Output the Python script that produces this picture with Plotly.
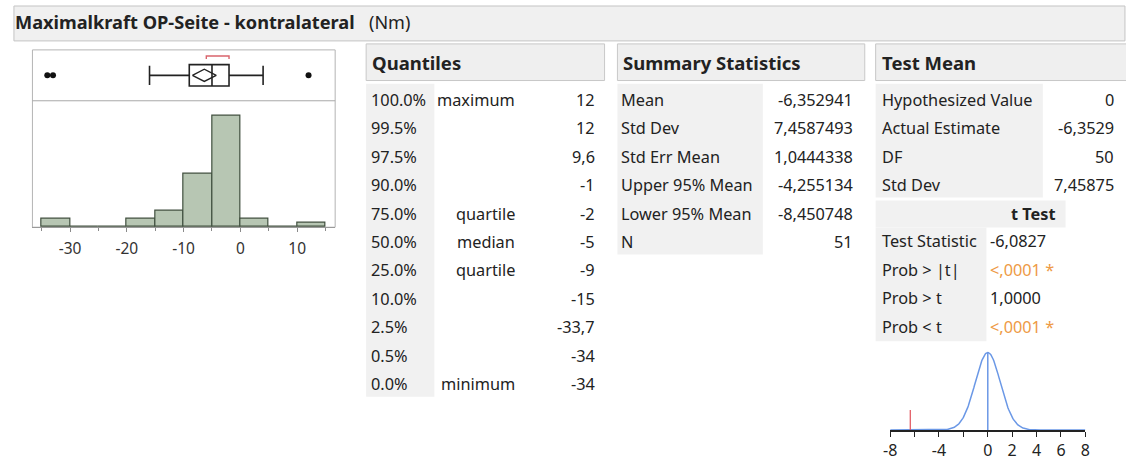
import math
import plotly.graph_objects as go

W, H = 1126, 461
FONT = "Noto Sans"
TXT = "#222222"


def px(x):
    return x / W


def py(y):
    return 1 - y / H


# ---------------- data ----------------
title_main = "Maximalkraft OP-Seite - kontralateral"
title_unit = "(Nm)"

bin_left = [-35, -30, -25, -20, -15, -10, -5, 0, 5, 10]
bin_counts = [2, 0, 0, 2, 4, 13, 27, 2, 0, 1]
bin_width = 5
hist_ticks = [-30, -20, -10, 0, 10]
hist_tick_text = ["-30", "-20", "-10", "0", "10"]

box_q1, box_median, box_q3 = -9, -5, -2
box_lower_whisker, box_upper_whisker = -16, 4
outliers = [-34, -33, 12]
shortest_half = [-6, -2]

mean_val = -6.352941
std_dev = 7.4587493
std_err = 1.0444338
upper95 = -4.255134
lower95 = -8.450748
n_obs = 51

quant_pct = ["100.0%", "99.5%", "97.5%", "90.0%", "75.0%", "50.0%",
             "25.0%", "10.0%", "2.5%", "0.5%", "0.0%"]
quant_label = ["maximum", "", "", "", "quartile", "median",
               "quartile", "", "", "", "minimum"]
quant_val = ["12", "12", "9,6", "-1", "-2", "-5", "-9", "-15", "-33,7", "-34", "-34"]

summary_label = ["Mean", "Std Dev", "Std Err Mean", "Upper 95% Mean",
                 "Lower 95% Mean", "N"]
summary_val = ["-6,352941", "7,4587493", "1,0444338", "-4,255134",
               "-8,450748", "51"]

testmean_label = ["Hypothesized Value", "Actual Estimate", "DF", "Std Dev"]
testmean_val = ["0", "-6,3529", "50", "7,45875"]

ttest_label = ["Test Statistic", "Prob > |t|", "Prob > t", "Prob < t"]
ttest_val = ["-6,0827", "<,0001 *", "1,0000", "<,0001 *"]
ttest_signif = [False, True, False, True]

hyp_value = 0
t_df = 50
t_axis_ticks = [-8, -6, -4, -2, 0, 2, 4, 6, 8]
t_axis_text = ["-8", "", "-4", "", "0", "2", "4", "6", "8"]

# ---------------- figure ----------------
fig = go.Figure()
shapes = []
ann = []
CELL_SIZE = 16.3
HEAD_SIZE = 18.5

# title bar
shapes.append(dict(type="rect", xref="paper", yref="paper",
                   x0=px(7), x1=px(1130), y0=py(41), y1=py(6),
                   fillcolor="#f0f0f0", line=dict(color="#c4c4c4", width=1)))
ann.append(dict(xref="paper", yref="paper", x=px(6), y=py(22),
                text="<b>" + title_main + "</b>",
                xanchor="left", yanchor="middle", showarrow=False,
                font=dict(family=FONT, size=18.2, color=TXT)))
ann.append(dict(xref="paper", yref="paper", x=px(364), y=py(22),
                text=title_unit,
                xanchor="left", yanchor="middle", showarrow=False,
                font=dict(family=FONT, size=18, color=TXT)))

# histogram + box plot panel
H_X0, H_X1 = 25.7, 331.7
H_TOP, H_SEP, H_BASE = 50, 101, 227.7
X_RANGE = [-36.62, 16.69]
shapes.append(dict(type="rect", xref="paper", yref="paper",
                   x0=px(H_X0), x1=px(H_X1), y0=py(H_BASE), y1=py(H_TOP),
                   line=dict(color="#b4b4b4", width=1), layer="below"))
shapes.append(dict(type="line", xref="paper", yref="paper",
                   x0=px(H_X0), x1=px(H_X1), y0=py(H_SEP), y1=py(H_SEP),
                   line=dict(color="#a8a8a8", width=1)))

fig.add_trace(go.Bar(
    x=[b + bin_width / 2 for b in bin_left], y=bin_counts, width=bin_width,
    marker=dict(color="#b7c6b3", line=dict(color="#404f3e", width=1.2)),
    xaxis="x", yaxis="y", showlegend=False, hoverinfo="skip"))

top_count = max(bin_counts)
y_hist_max = top_count * (H_BASE - H_SEP) / (H_BASE - 116)

# box plot on its own axes sharing the same value range
fig.add_trace(go.Box(
    y=[0.5], q1=[box_q1], median=[box_median], q3=[box_q3],
    lowerfence=[box_lower_whisker], upperfence=[box_upper_whisker],
    orientation="h", width=0.42, whiskerwidth=0.9,
    fillcolor="rgba(255,255,255,0)", line=dict(color="#222222", width=1.6),
    boxpoints=False, xaxis="x2", yaxis="y2", showlegend=False, hoverinfo="skip"))

dh = 0.12
fig.add_trace(go.Scatter(
    x=[lower95, mean_val, upper95, mean_val, lower95],
    y=[0.5, 0.5 + dh, 0.5, 0.5 - dh, 0.5],
    mode="lines", line=dict(color="#222222", width=1.4),
    xaxis="x2", yaxis="y2", showlegend=False, hoverinfo="skip"))

fig.add_trace(go.Scatter(
    x=outliers, y=[0.5] * len(outliers), mode="markers",
    marker=dict(color="#111111", size=6),
    xaxis="x2", yaxis="y2", showlegend=False, hoverinfo="skip"))

fig.add_trace(go.Scatter(
    x=[shortest_half[0], shortest_half[0], shortest_half[1], shortest_half[1]],
    y=[0.82, 0.88, 0.88, 0.82], mode="lines",
    line=dict(color="#d9646c", width=1.4),
    xaxis="x2", yaxis="y2", showlegend=False, hoverinfo="skip"))

# ---------------- tables ----------------
ROW0, ROWH = 100, 28.5


def header(x0, x1, text):
    shapes.append(dict(type="rect", xref="paper", yref="paper",
                       x0=px(x0), x1=px(x1), y0=py(80.7), y1=py(44),
                       fillcolor="#efefef", line=dict(color="#c8c8c8", width=1)))
    ann.append(dict(xref="paper", yref="paper", x=px(x0 + 4), y=py(62.5),
                    text="<b>" + text + "</b>",
                    xanchor="left", yanchor="middle", showarrow=False,
                    font=dict(family=FONT, size=HEAD_SIZE, color=TXT)))


def cell(x, y, text, anchor, color=TXT, bold=False):
    shift = -3 if anchor == "left" else 2
    ann.append(dict(xref="paper", yref="paper", x=px(x + shift), y=py(y),
                    text=("<b>%s</b>" % text) if bold else text,
                    xanchor=anchor, yanchor="middle", showarrow=False,
                    font=dict(family=FONT, size=CELL_SIZE, color=color)))


def grey(x0, x1, y0, y1):
    shapes.append(dict(type="rect", xref="paper", yref="paper",
                       x0=px(x0), x1=px(x1), y0=py(y1), y1=py(y0),
                       fillcolor="#f1f1f1", line=dict(width=0), layer="below"))


# Quantiles
header(363, 604, "Quantiles")
grey(363, 432, 84, 84 + ROWH * len(quant_pct))
for i, (p, l, v) in enumerate(zip(quant_pct, quant_label, quant_val)):
    y = ROW0 + ROWH * i
    cell(369, y, p, "left")
    if l:
        cell(513, y, l, "right")
    cell(594, y, v, "right")

# Summary Statistics
header(617, 867, "Summary Statistics")
grey(617, 764, 84, 84 + ROWH * len(summary_label))
for i, (l, v) in enumerate(zip(summary_label, summary_val)):
    y = ROW0 + ROWH * i
    cell(622, y, l, "left")
    cell(855, y, v, "right")

# Test Mean
header(878, 1140, "Test Mean")
grey(878, 1047, 84, 84 + ROWH * len(testmean_label))
for i, (l, v) in enumerate(zip(testmean_label, testmean_val)):
    y = ROW0 + ROWH * i
    cell(885, y, l, "left")
    cell(1119, y, v, "right")

grey(878, 1070, 201, 228)
cell(1060, 214, "t Test", "right", bold=True)
grey(878, 990, 228, 228 + ROWH * len(ttest_label))
for i, (l, v, s) in enumerate(zip(ttest_label, ttest_val, ttest_signif)):
    y = 242 + ROWH * i
    cell(885, y, l, "left")
    cell(995, y, v, "left", color="#ee9a45" if s else TXT)

# ---------------- t density under the null ----------------
def t_pdf(t, df):
    c = math.exp(math.lgamma((df + 1) / 2) - math.lgamma(df / 2)) / math.sqrt(df * math.pi)
    return c * (1 + t * t / df) ** (-(df + 1) / 2)


n_pts = 321
tx = [-8 + 16 * k / (n_pts - 1) for k in range(n_pts)]
ty = [t_pdf((v - hyp_value) / std_err, t_df) / std_err for v in tx]
peak = max(ty)

fig.add_trace(go.Scatter(x=tx, y=ty, mode="lines",
                         line=dict(color="#6b98e6", width=1.5),
                         xaxis="x3", yaxis="y3", showlegend=False, hoverinfo="skip"))
fig.add_trace(go.Scatter(x=[hyp_value, hyp_value], y=[0, peak], mode="lines",
                         line=dict(color="#6b98e6", width=1.5),
                         xaxis="x3", yaxis="y3", showlegend=False, hoverinfo="skip"))
fig.add_trace(go.Scatter(x=[mean_val, mean_val], y=[0, peak * 0.26], mode="lines",
                         line=dict(color="#e0505a", width=1.2),
                         xaxis="x3", yaxis="y3", showlegend=False, hoverinfo="skip"))

T_AXIS_Y, T_TOP = 431, 350
fig.update_layout(
    width=W, height=H, margin=dict(l=0, r=0, t=0, b=0),
    paper_bgcolor="white", plot_bgcolor="rgba(0,0,0,0)",
    shapes=shapes, annotations=ann, bargap=0,
    xaxis=dict(domain=[px(H_X0), px(H_X1)], range=X_RANGE, anchor="y",
               tickvals=hist_ticks, ticktext=hist_tick_text, ticks="outside", ticklen=4,
               tickcolor="#8a8a8a", showline=True, linecolor="#9a9a9a", linewidth=1,
               minor=dict(tickvals=[-35, -25, -15, -5, 5, 15], ticks="outside",
                          ticklen=3, tickcolor="#8a8a8a"),
               showgrid=False, zeroline=False, ticklabelstandoff=3,
               tickfont=dict(family=FONT, size=15.5, color="#333333")),
    yaxis=dict(domain=[py(H_BASE), py(H_SEP)], range=[0, y_hist_max], anchor="x",
               visible=False, showgrid=False, zeroline=False),
    xaxis2=dict(domain=[px(H_X0), px(H_X1)], range=X_RANGE, anchor="y2",
                visible=False, showgrid=False, zeroline=False),
    yaxis2=dict(domain=[py(H_SEP), py(H_TOP)], range=[0, 1], anchor="x2",
                visible=False, showgrid=False, zeroline=False),
    xaxis3=dict(domain=[px(892.7), px(1090)], range=[-8, 8], anchor="y3",
                tickvals=t_axis_ticks, ticktext=t_axis_text, ticks="outside",
                ticklen=5, tickcolor="#222222", showline=True, linecolor="#222222",
                linewidth=1.5, showgrid=False, zeroline=False,
                tickfont=dict(family=FONT, size=16, color=TXT)),
    yaxis3=dict(domain=[py(T_AXIS_Y), py(T_TOP)],
                range=[0, peak * (T_AXIS_Y - T_TOP) / (T_AXIS_Y - 353.3)], anchor="x3",
                visible=False, showgrid=False, zeroline=False),
)

fig.write_html("out.html")
